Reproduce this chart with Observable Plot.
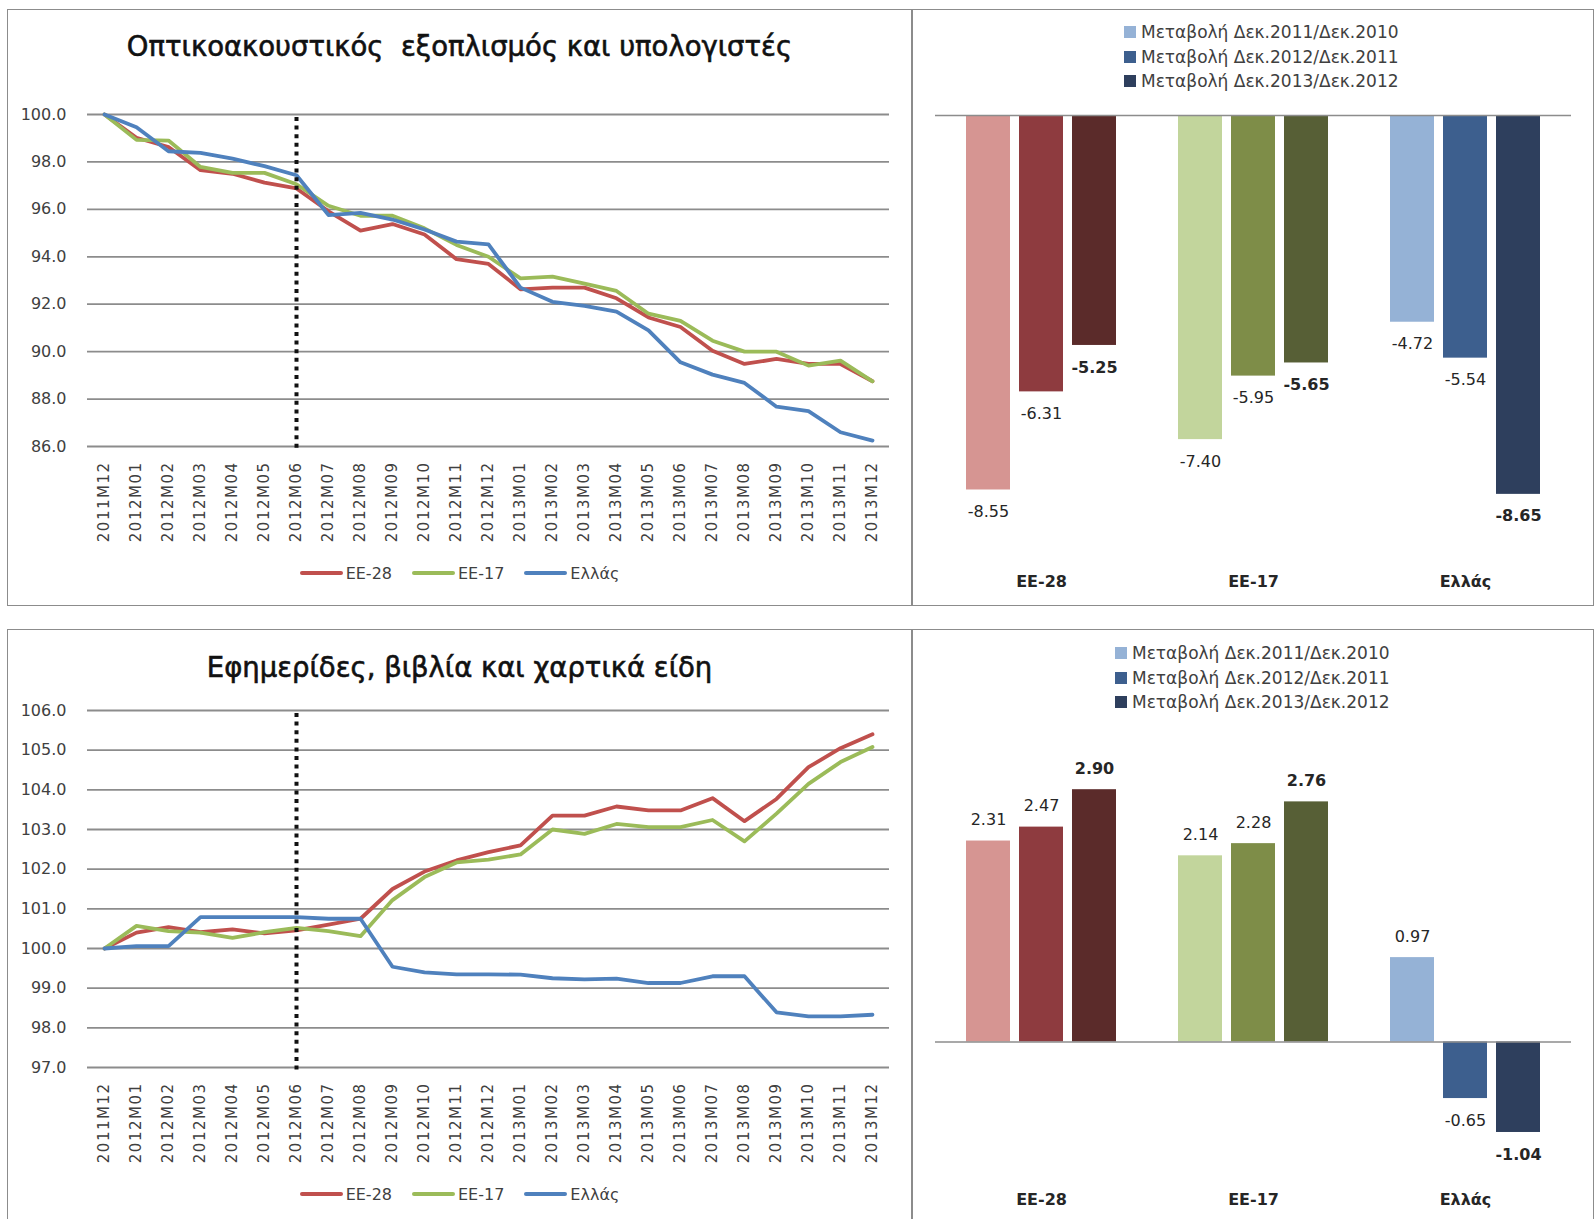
<!DOCTYPE html>
<html><head><meta charset="utf-8">
<script src="https://cdn.jsdelivr.net/npm/d3@7"></script>
<script src="https://cdn.jsdelivr.net/npm/@observablehq/plot@0.6"></script>
<style>
body{margin:0;background:#fff;font-family:"DejaVu Sans",sans-serif;}
#page{position:relative;width:1596px;height:1219px;overflow:hidden;background:#fff;}
.panel{position:absolute;border:1.5px solid #8c8c8c;box-sizing:border-box;}
.holder{position:absolute;}
.title{position:absolute;left:7px;width:905px;text-align:center;font-size:27.5px;line-height:30px;color:#111;-webkit-text-stroke:0.6px #111;}
.llegend{position:absolute;left:7px;width:905px;height:20px;display:flex;justify-content:center;align-items:center;font-size:16px;color:#404040;}
.llegend .it{display:flex;align-items:center;margin:0 10px;}
.llegend .sw{width:43px;height:4px;margin-right:3px;border-radius:2px;}
.blegend{position:absolute;font-size:17px;color:#404040;}
.blegend .row{display:flex;align-items:center;height:24.4px;}
.blegend .sq{width:12px;height:12px;margin-right:5px;}
</style></head>
<body>
<div id="page"></div>
<script>
// ---------- data ----------
const months = ["2011M12","2012M01","2012M02","2012M03","2012M04","2012M05","2012M06","2012M07","2012M08","2012M09","2012M10","2012M11","2012M12","2013M01","2013M02","2013M03","2013M04","2013M05","2013M06","2013M07","2013M08","2013M09","2013M10","2013M11","2013M12"];
const seriesNames = ["EE-28","EE-17","Ελλάς"];
const markerMonth = ["2012M06"];

// Οπτικοακουστικός εξοπλισμός και υπολογιστές (index)
const av_EE28 = [100.0,99.02,98.63,97.65,97.50,97.13,96.88,95.92,95.10,95.38,94.94,93.90,93.70,92.63,92.70,92.70,92.25,91.44,91.04,90.04,89.48,89.69,89.48,89.48,88.75];
const av_EE17 = [100.0,98.93,98.90,97.79,97.54,97.54,97.06,96.15,95.73,95.73,95.20,94.50,94.00,93.09,93.16,92.87,92.56,91.60,91.30,90.46,90.00,90.00,89.41,89.62,88.75];
const av_GR   = [100.0,99.46,98.45,98.38,98.14,97.82,97.44,95.76,95.85,95.57,95.15,94.64,94.52,92.70,92.10,91.93,91.69,90.90,89.55,89.03,88.68,87.68,87.49,86.60,86.25];
const av_yTicks = [86,88,90,92,94,96,98,100];

// Εφημερίδες, βιβλία και χαρτικά είδη (index)
const np_EE28 = [100.0,100.40,100.54,100.41,100.48,100.38,100.46,100.60,100.75,101.50,101.94,102.22,102.43,102.60,103.35,103.35,103.58,103.48,103.48,103.79,103.21,103.77,104.57,105.05,105.40];
const np_EE17 = [100.0,100.57,100.44,100.40,100.27,100.41,100.52,100.44,100.31,101.22,101.80,102.17,102.24,102.37,103.00,102.89,103.14,103.06,103.06,103.24,102.70,103.40,104.15,104.70,105.08];
const np_GR   = [100.0,100.06,100.06,100.79,100.79,100.79,100.79,100.75,100.75,99.54,99.40,99.35,99.35,99.34,99.25,99.22,99.24,99.13,99.13,99.30,99.30,98.39,98.29,98.29,98.33];
const np_yTicks = [97,98,99,100,101,102,103,104,105,106];

// Μεταβολές (%)
const regions = ["EE-28","EE-17","Ελλάς"];
const periods = ["Μεταβολή Δεκ.2011/Δεκ.2010","Μεταβολή Δεκ.2012/Δεκ.2011","Μεταβολή Δεκ.2013/Δεκ.2012"];
const avChange_EE28 = [-8.55,-6.31,-5.25];
const avChange_EE17 = [-7.40,-5.95,-5.65];
const avChange_GR   = [-4.72,-5.54,-8.65];
const npChange_EE28 = [2.31,2.47,2.90];
const npChange_EE17 = [2.14,2.28,2.76];
const npChange_GR   = [0.97,-0.65,-1.04];

// ---------- styles ----------
const lineColors = ["#C0504D","#9BBB59","#4F81BD"];
const barColors = [
  ["#D69592","#8E3B3F","#5B2B2A"],
  ["#C2D59C","#7E8D48","#575F36"],
  ["#95B2D6","#3D5F8E","#2E3F5D"]
];
const FONT = "DejaVu Sans, sans-serif";

const page = document.getElementById("page");
function add(el){ page.appendChild(el); return el; }
function div(cls, css, html){ const d=document.createElement("div"); if(cls) d.className=cls; Object.assign(d.style, css||{}); if(html!==undefined) d.innerHTML=html; return add(d); }

// panels
div("panel",{left:"7px",top:"9px",width:"906px",height:"597px"});
div("panel",{left:"911px",top:"9px",width:"683px",height:"597px"});
div("panel",{left:"7px",top:"629px",width:"906px",height:"600px"});
div("panel",{left:"911px",top:"629px",width:"683px",height:"600px"});

function lineChart(vals, yDomain, yTicks, left, top, width, height, mt, mb){
  const rows = [];
  seriesNames.forEach((s,k)=>vals[k].forEach((v,i)=>rows.push({month:months[i], value:v, series:s})));
  const svg = Plot.plot({
    width, height, marginTop: mt, marginBottom: mb, marginLeft: 80, marginRight: 23,
    style: {fontFamily: FONT, color: "#404040", background: "transparent", overflow: "visible"},
    x: {type:"point", domain: months, padding: 0.5, label: null},
    y: {domain: yDomain, label: null},
    color: {domain: seriesNames, range: lineColors},
    marks: [
      Plot.ruleY(yTicks, {stroke:"#8c8c8c", strokeWidth:1.8}),
      Plot.axisY(yTicks, {tickSize:0, tickPadding:21, tickFormat: d=>d.toFixed(1), fontSize:16, label:null}),
      Plot.axisX({tickSize:0, tickPadding:15, tickRotate:-90, fontSize:15, label:null}),
      Plot.line(rows, {x:"month", y:"value", z:"series", stroke:"series", strokeWidth:3.8, strokeLinejoin:"round"}),
      Plot.ruleX(markerMonth, {stroke:"#111", strokeWidth:4, strokeDasharray:"4,4.6", insetTop:3, insetBottom:-6})
    ]
  });
  d3.select(svg).selectAll('[aria-label="x-axis tick label"] text').style("letter-spacing","1.5px");
  const h = div("holder",{left:left+"px",top:top+"px"});
  h.appendChild(svg);
}

function lineLegend(top){
  const lg = div("llegend",{top:(top-10)+"px"});
  seriesNames.forEach((s,i)=>{
    const it=document.createElement("div"); it.className="it";
    it.innerHTML = `<span class="sw" style="background:${lineColors[i]}"></span><span>${s}</span>`;
    lg.appendChild(it);
  });
}

function barChart(vals, yDomain, left, top, height, mt, mb, fxPad){
  const rows = [];
  regions.forEach((r,ri)=>vals[ri].forEach((v,pi)=>rows.push({region:r, period:periods[pi], value:v, color:barColors[ri][pi], bold: pi===2})));
  const fmt = d=>d.value.toFixed(2);
  const common = {fx:"region", x:"period", y:"value", text: fmt, fontSize:16, fill:"#262626"};
  const svg = Plot.plot({
    width: 683, height, marginTop: mt, marginBottom: mb, marginLeft: 24, marginRight: 23,
    style: {fontFamily: FONT, color: "#262626", background: "transparent", overflow:"visible"},
    fx: {domain: regions, paddingInner: 0, paddingOuter: 0, label: null},
    x: {domain: periods, paddingInner: 0.17, paddingOuter: 0.585, axis: null},
    y: {domain: yDomain, axis: null},
    color: {type: "identity"},
    marks: [
      Plot.barY(rows, {fx:"region", x:"period", y:"value", fill:"color"}),
      Plot.ruleY([0], {stroke:"#8c8c8c", strokeWidth:1.5}),
      Plot.text(rows.filter(d=>d.value<0 && !d.bold), {...common, dy:22}),
      Plot.text(rows.filter(d=>d.value<0 && d.bold), {...common, dy:22, fontWeight:"bold"}),
      Plot.text(rows.filter(d=>d.value>=0 && !d.bold), {...common, dy:-21}),
      Plot.text(rows.filter(d=>d.value>=0 && d.bold), {...common, dy:-21, fontWeight:"bold"}),
      Plot.axisFx({anchor:"bottom", tickSize:0, tickPadding:fxPad, fontSize:16, fontWeight:"bold", label:null})
    ]
  });
  const h = div("holder",{left:left+"px",top:top+"px"});
  h.appendChild(svg);
}

function barLegend(left, top){
  const lg = div("blegend",{left:left+"px",top:top+"px"});
  periods.forEach((p,i)=>{
    const r=document.createElement("div"); r.className="row";
    r.innerHTML = `<span class="sq" style="background:${barColors[2][i]}"></span><span>${p}</span>`;
    lg.appendChild(r);
  });
}

// Top row
div("title",{top:"31px"},"Οπτικοακουστικός&nbsp; εξοπλισμός και υπολογιστές");
lineChart([av_EE28,av_EE17,av_GR],[86,100],av_yTicks,7,9,905,596,105,159);
lineLegend(573);
barChart([avChange_EE28,avChange_EE17,avChange_GR],[-10,0],911,9,596,106,52,22);
barLegend(1124,20);

// Bottom row
div("title",{top:"652px"},"Εφημερίδες, βιβλία και χαρτικά είδη");
lineChart([np_EE28,np_EE17,np_GR],[97,106],np_yTicks,7,629,905,590,81,152);
lineLegend(1194);
barChart([npChange_EE28,npChange_EE17,npChange_GR],[-1.5,3.5],911,629,590,108,47,21);
barLegend(1115,641);
</script>
</body></html>
